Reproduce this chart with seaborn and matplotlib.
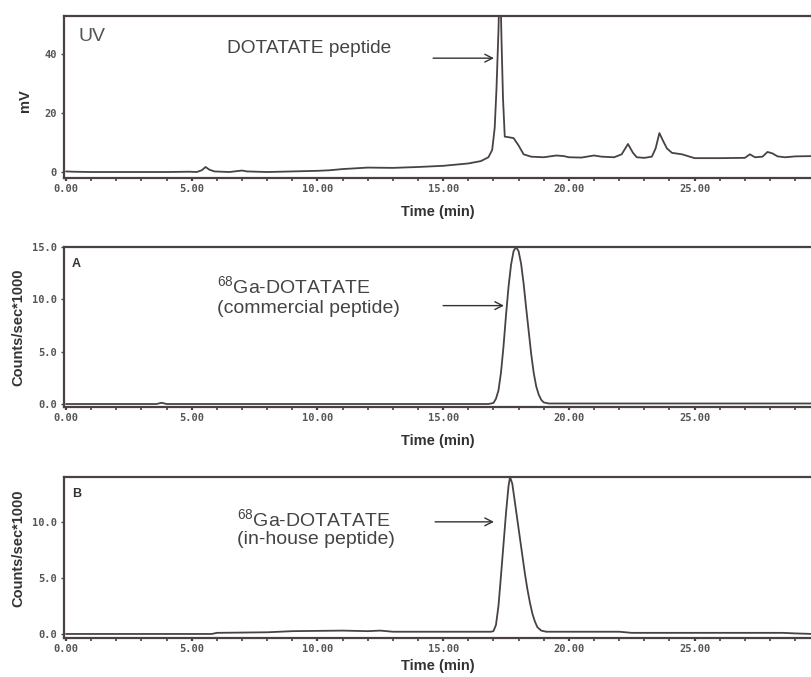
import numpy as np
import pandas as pd
import matplotlib
matplotlib.use("Agg")
import matplotlib.pyplot as plt
from matplotlib.ticker import MultipleLocator
import seaborn as sns

# ---------------- data ----------------
uv_time = [0.0, 0.3, 1.0, 2.0, 3.0, 4.0, 4.9, 5.2, 5.4, 5.55, 5.7, 5.9, 6.5, 7.0, 7.2,
           8.0, 9.0, 10.0, 10.5, 11.0, 12.0, 13.0, 14.0, 15.0, 15.5, 16.0, 16.5, 16.8,
           16.95, 17.05, 17.12, 17.2, 17.26, 17.32, 17.38, 17.45, 17.6, 17.8, 18.0, 18.2,
           18.5, 19.0, 19.5, 19.8, 20.0, 20.5, 21.0, 21.3, 21.8, 22.1, 22.35, 22.55, 22.7,
           23.0, 23.3, 23.45, 23.6, 23.75, 23.9, 24.1, 24.5, 25.0, 26.0, 27.0, 27.2, 27.4,
           27.7, 27.9, 28.1, 28.3, 28.6, 29.0, 29.7]
uv_mv = [0.2, 0.1, 0.0, 0.0, 0.0, 0.0, 0.1, 0.0, 0.6, 1.7, 0.8, 0.2, 0.0, 0.5, 0.2,
         0.0, 0.2, 0.4, 0.6, 1.0, 1.5, 1.4, 1.7, 2.1, 2.5, 2.9, 3.7, 5.0,
         7.5, 15.0, 28.0, 48.0, 70.0, 45.0, 25.0, 12.0, 11.8, 11.5, 9.0, 6.0,
         5.2, 5.0, 5.6, 5.4, 5.0, 4.9, 5.6, 5.2, 5.0, 6.0, 9.5, 6.5, 5.0,
         4.8, 5.2, 8.0, 13.2, 10.5, 8.0, 6.5, 6.0, 4.7, 4.7, 4.8, 6.0, 5.0,
         5.2, 6.8, 6.3, 5.3, 5.0, 5.3, 5.4]

a_time = [0.0, 3.6, 3.8, 4.0, 10.0, 16.8, 17.0, 17.1, 17.2, 17.3, 17.4, 17.5, 17.6,
          17.7, 17.8, 17.9, 18.0, 18.1, 18.2, 18.3, 18.4, 18.5, 18.6, 18.7, 18.8,
          18.9, 19.0, 19.2, 24.0, 29.7]
a_counts = [0.0, 0.0, 0.12, 0.0, 0.0, 0.0, 0.1, 0.5, 1.3, 3.0, 5.5, 8.5, 11.2,
            13.3, 14.6, 15.0, 14.6, 13.4, 11.5, 9.2, 7.0, 4.8, 3.0, 1.7, 0.9,
            0.4, 0.15, 0.05, 0.05, 0.05]

b_time = [0.0, 5.8, 6.0, 8.0, 9.0, 11.0, 12.0, 12.5, 13.0, 16.9, 17.0, 17.1, 17.2,
          17.3, 17.4, 17.5, 17.6, 17.66, 17.75, 17.85, 17.95, 18.05, 18.15, 18.25,
          18.35, 18.45, 18.55, 18.65, 18.75, 18.9, 19.1, 22.0, 22.5, 28.5, 29.0, 29.7]
b_counts = [0.0, 0.0, 0.1, 0.15, 0.25, 0.3, 0.25, 0.3, 0.2, 0.2, 0.25, 0.8, 2.5,
            5.2, 8.0, 10.8, 13.2, 14.0, 13.4, 11.8, 10.2, 8.6, 7.0, 5.4,
            4.0, 2.8, 1.8, 1.1, 0.6, 0.3, 0.2, 0.2, 0.1, 0.1, 0.05, 0.0]

x_major = [0, 5, 10, 15, 20, 25]
x_labels = ["0.00", "5.00", "10.00", "15.00", "20.00", "25.00"]
uv_yticks = [0, 20, 40]
uv_ylabels = ["0", "20", "40"]
a_yticks = [0, 5, 10, 15]
a_ylabels = ["0.0", "5.0", "10.0", "15.0"]
b_yticks = [0, 5, 10]
b_ylabels = ["0.0", "5.0", "10.0"]

# ---------------- style ----------------
sns.set_style("white")
plt.rcParams["font.family"] = ["Liberation Sans", "DejaVu Sans"]
plt.rcParams["mathtext.fontset"] = "custom"
plt.rcParams["mathtext.rm"] = "Liberation Sans"
plt.rcParams["mathtext.it"] = "Liberation Sans"

W, H = 811, 677
LINE = "#4a4242"
TXT = "#555555"

fig = plt.figure(figsize=(W / 100, H / 100), dpi=100)
fig.patch.set_facecolor("white")


def px_axes(left, top, right, bottom):
    return fig.add_axes([left / W, 1 - bottom / H, (right - left) / W, (bottom - top) / H])


ax1 = px_axes(64, 16, 811, 178)
ax2 = px_axes(64, 247, 811, 407)
ax3 = px_axes(64, 477, 811, 638)

df1 = pd.DataFrame({"t": uv_time, "v": uv_mv})
df2 = pd.DataFrame({"t": a_time, "v": a_counts})
df3 = pd.DataFrame({"t": b_time, "v": b_counts})

for ax, df in [(ax1, df1), (ax2, df2), (ax3, df3)]:
    sns.lineplot(data=df, x="t", y="v", ax=ax, color=LINE, lw=1.3,
                 sort=False, estimator=None)

xmin, xmax = -0.08, 29.63
ax1.set_ylim(-2.03, 52.9)
ax2.set_ylim(-0.285, 14.91)
ax3.set_ylim(-0.36, 14.0)

tickfont = dict(family="DejaVu Sans Mono", weight="bold", size=7.5)

for ax, yt, yl, lp in [(ax1, uv_yticks, uv_ylabels, 8), (ax2, a_yticks, a_ylabels, 8),
                       (ax3, b_yticks, b_ylabels, 4)]:
    ax.set_xlim(xmin, xmax)
    ax.set_xticks(x_major)
    ax.set_xticklabels(x_labels, fontdict=tickfont, color=TXT)
    ax.xaxis.set_minor_locator(MultipleLocator(1))
    ax.set_yticks(yt)
    ax.set_yticklabels(yl, fontdict=tickfont, color=TXT)
    for side in ["left", "top", "bottom"]:
        ax.spines[side].set_visible(True)
        ax.spines[side].set_color(LINE)
        ax.spines[side].set_linewidth(1.6)
    ax.spines["right"].set_visible(False)
    ax.tick_params(axis="x", which="major", direction="out", length=2.5, width=1.6,
                   color=LINE, pad=1.5, bottom=True)
    ax.tick_params(axis="x", which="minor", direction="out", length=1.8, width=1.2,
                   color=LINE, bottom=True)
    ax.tick_params(axis="y", which="major", direction="out", length=2.5, width=1.0,
                   color=LINE, pad=2.5, left=True)
    ax.set_xlabel("Time (min)", fontsize=10.5, fontweight="bold", color="#333333",
                  labelpad=lp)

ax1.set_ylabel("mV", fontsize=10.5, fontweight="bold", color="#333333")
ax1.yaxis.set_label_coords(-0.043, 0.48)
ax2.set_ylabel("Counts/sec*1000", fontsize=10.5, fontweight="bold", color="#333333")
ax2.yaxis.set_label_coords(-0.052, 0.5)
ax3.set_ylabel("Counts/sec*1000", fontsize=10.5, fontweight="bold", color="#333333")
ax3.yaxis.set_label_coords(-0.052, 0.56)


def ftext(x, y, s, **kw):
    fig.text(x / W, 1 - y / H, s, va="baseline", ha="left", **kw)


ftext(78, 41, "UV", fontsize=14, color=TXT)
ftext(227, 53, "DOTATATE peptide", fontsize=13.8, color="#444444")
ftext(72, 267, "A", fontsize=9, fontweight="bold", color="#333333")
ftext(217, 293, r"$^{68}$Ga-DOTATATE", fontsize=14, color="#444444")
ftext(217, 313, "(commercial peptide)", fontsize=14, color="#444444")
ftext(72, 497, "B", fontsize=9, fontweight="bold", color="#333333")
ftext(237, 526, r"$^{68}$Ga-DOTATATE", fontsize=14, color="#444444")
ftext(237, 544, "(in-house peptide)", fontsize=14, color="#444444")

arrow = dict(arrowstyle="->,head_length=0.55,head_width=0.28", color="#333333", lw=1.0,
             shrinkA=0, shrinkB=0)
ax1.annotate("", xy=(17.02, 38.6), xytext=(14.6, 38.6), arrowprops=arrow)
ax2.annotate("", xy=(17.42, 9.4), xytext=(15.0, 9.4), arrowprops=arrow)
ax3.annotate("", xy=(17.02, 10.0), xytext=(14.68, 10.0), arrowprops=arrow)

fig.savefig("out.png", dpi=100, facecolor="white")
